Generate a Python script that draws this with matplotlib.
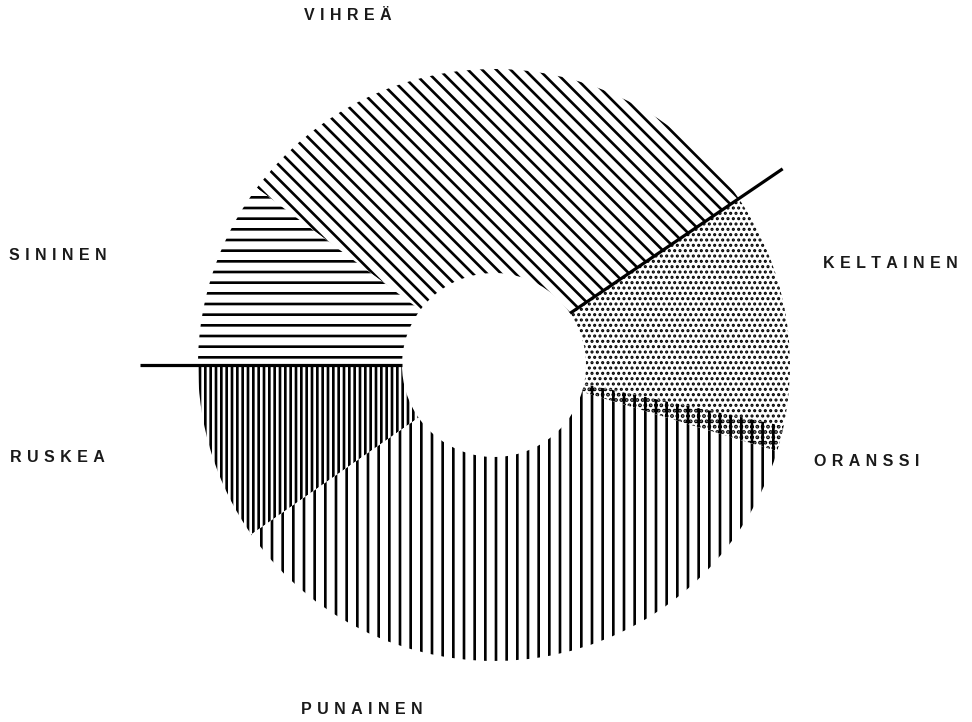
import matplotlib
matplotlib.use("Agg")
import matplotlib.pyplot as plt
import numpy as np

# share of each colour (percent), counter-clockwise from the left horizontal
labels = ["RUSKEA", "PUNAINEN", "ORANSSI", "KELTAINEN", "VIHREÄ", "SININEN"]
shares = [9.7, 35.6, 1.4, 12.8, 30.3, 10.2]
hatches = ["||||", "||", "||....", "....", "\\\\\\", "--"]
hatch_widths = [1.5, 1.5, 1.5, 1.15, 1.5, 1.5]

# label anchor points in pixel coordinates (y up)
label_xy = [(57, 264), (362, 12), (867, 260), (890, 459), (348, 706), (58, 466)]

DPI = 128
W, H = 972, 722
CX, CY = 494, 357
R_OUT, R_IN = 296, 92


def main():
    plt.rcParams["hatch.linewidth"] = 1.5
    fig = plt.figure(figsize=(W / DPI, H / DPI), dpi=DPI)
    ax = fig.add_axes([0, 0, 1, 1])

    wedges, _ = ax.pie(shares, startangle=180, counterclock=True,
                       radius=R_OUT, center=(CX, CY),
                       colors=["white"] * len(shares), hatch=hatches,
                       wedgeprops=dict(width=R_OUT - R_IN, linewidth=0,
                                       edgecolor="black"))
    for w, hw in zip(wedges, hatch_widths):
        if hasattr(w, "set_hatch_linewidth"):
            w.set_hatch_linewidth(hw)

    # heavy dividing lines: left horizontal and the keltainen/vihreä edge
    bounds = 180 + 360 * np.cumsum(shares) / sum(shares)
    for ang, r_end in [(180, 354), (bounds[3], 349)]:
        t = np.deg2rad(ang)
        ax.plot([CX + R_IN * np.cos(t), CX + r_end * np.cos(t)],
                [CY + R_IN * np.sin(t), CY + r_end * np.sin(t)],
                color="black", lw=1.8, solid_capstyle="butt")

    for lab, (x, y) in zip(labels, label_xy):
        ax.text(x, y, "\u2004".join(lab), ha="center", va="center",
                fontsize=9, fontweight="bold",
                family=["Liberation Sans", "DejaVu Sans"], color="#1a1a1a")

    ax.set_xlim(0, W)
    ax.set_ylim(0, H)
    ax.set_aspect("equal")
    ax.set_axis_off()
    fig.savefig("out.png", dpi=DPI, facecolor="white")


if __name__ == "__main__":
    main()
